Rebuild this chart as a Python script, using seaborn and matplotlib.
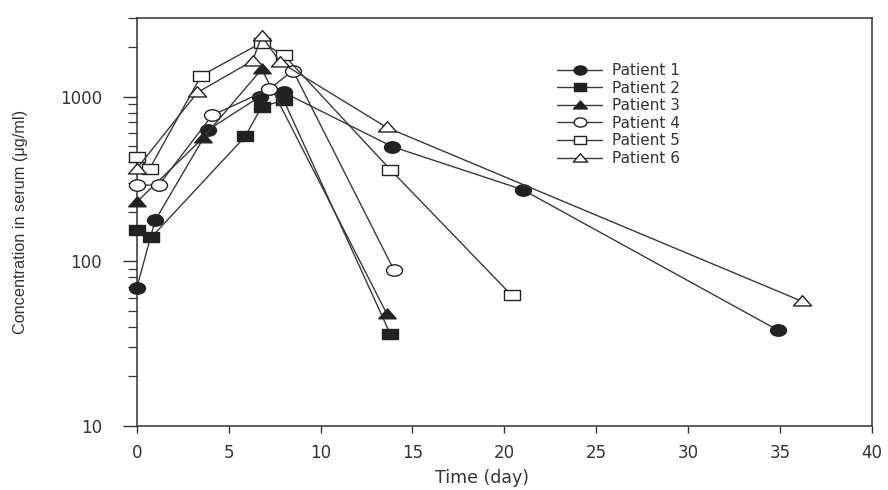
import numpy as np
import pandas as pd
import matplotlib
matplotlib.use("Agg")
import matplotlib.pyplot as plt
import seaborn as sns
from matplotlib.path import Path
from matplotlib.ticker import FixedLocator, NullFormatter, LogLocator

# ---- data ----
patients = ["Patient 1", "Patient 2", "Patient 3", "Patient 4", "Patient 5", "Patient 6"]
p1_day = [0, 1.0, 3.9, 6.7, 8.0, 13.9, 21.0, 34.9]
p1_conc = [69, 177, 630, 1000, 1060, 497, 272, 38]
p2_day = [0, 0.8, 5.9, 6.8, 8.0, 13.8]
p2_conc = [155, 140, 573, 870, 950, 36]
p3_day = [0, 3.6, 6.8, 13.6]
p3_conc = [229, 560, 1470, 48]
p4_day = [0, 1.2, 4.1, 7.2, 8.5, 14.0]
p4_conc = [290, 290, 770, 1110, 1440, 88]
p5_day = [0, 0.7, 3.5, 6.8, 8.0, 13.8, 20.4]
p5_conc = [430, 365, 1340, 2130, 1790, 360, 62]
p6_day = [0, 3.3, 6.3, 6.8, 7.8, 13.6, 36.2]
p6_conc = [365, 1060, 1650, 2340, 1620, 650, 57]

x_ticks = [0, 5, 10, 15, 20, 25, 30, 35, 40]
y_ticks = [10, 100, 1000]
y_ticklabels = ["10", "100", "1000"]

frames = []
for name, d, c in zip(patients,
                      [p1_day, p2_day, p3_day, p4_day, p5_day, p6_day],
                      [p1_conc, p2_conc, p3_conc, p4_conc, p5_conc, p6_conc]):
    frames.append(pd.DataFrame({"day": d, "conc": c, "patient": name}))
df = pd.concat(frames, ignore_index=True)

# ---- marker shapes (slightly wide, like the scanned original) ----
circ = Path.unit_circle()
ellipse = Path(circ.vertices * np.array([1.4, 1.0]), circ.codes)
square = Path([(-0.7, -0.5), (0.7, -0.5), (0.7, 0.5), (-0.7, 0.5), (-0.7, -0.5)],
              [Path.MOVETO, Path.LINETO, Path.LINETO, Path.LINETO, Path.CLOSEPOLY])
tri = Path([(-0.85, -0.42), (0.85, -0.42), (0.0, 0.55), (-0.85, -0.42)],
           [Path.MOVETO, Path.LINETO, Path.LINETO, Path.CLOSEPOLY])

styles = {
    "Patient 1": dict(marker=ellipse, ms=11.5, mfc="#222222"),
    "Patient 2": dict(marker=square, ms=11, mfc="#222222"),
    "Patient 3": dict(marker=tri, ms=12.5, mfc="#222222"),
    "Patient 4": dict(marker=ellipse, ms=11.5, mfc="white"),
    "Patient 5": dict(marker=square, ms=11, mfc="white"),
    "Patient 6": dict(marker=tri, ms=13, mfc="white"),
}

sns.set_theme(style="ticks")
plt.rcParams["font.family"] = ["DejaVu Sans"]

fig = plt.figure(figsize=(8.88, 4.90), dpi=100)
ax = fig.add_axes([0.154, 0.131, 0.828, 0.832])

for name in patients:
    s = styles[name]
    sub = df[df["patient"] == name]
    sns.lineplot(data=sub, x="day", y="conc", ax=ax, sort=False, estimator=None,
                 color="#3a3a3a", linewidth=1.0, label=name,
                 marker=s["marker"], markersize=s["ms"],
                 markerfacecolor=s["mfc"], markeredgecolor="#222222",
                 markeredgewidth=1.0, clip_on=False, zorder=3)

ax.set_yscale("log")
ax.set_xlim(0, 40)
ax.set_ylim(10, 3000)
ax.xaxis.set_major_locator(FixedLocator(x_ticks))
ax.set_xticklabels([str(t) for t in x_ticks])
ax.yaxis.set_major_locator(FixedLocator(y_ticks))
ax.set_yticklabels(y_ticklabels)
ax.yaxis.set_minor_locator(LogLocator(base=10, subs=np.arange(2, 10)))
ax.yaxis.set_minor_formatter(NullFormatter())

for sp in ax.spines.values():
    sp.set_visible(True)
    sp.set_color("#333333")
    sp.set_linewidth(1.1)

ax.tick_params(axis="x", which="major", direction="out", length=5, width=1,
               color="#333333", labelsize=12, labelcolor="#333333", pad=8,
               top=False)
ax.tick_params(axis="y", which="major", direction="out", length=10, width=1,
               color="#333333", labelsize=12, labelcolor="#333333", pad=15,
               right=False)
ax.tick_params(axis="y", which="minor", direction="out", length=6.5, width=0.9,
               color="#333333", right=False)

ax.set_xlabel("Time (day)", fontsize=12.5, color="#333333")
ax.xaxis.set_label_coords(0.47, -0.106)
ax.set_ylabel("Concentration in serum (μg/ml)", fontsize=11.7, color="#333333",
              family=["Liberation Sans", "DejaVu Sans"])
ax.yaxis.set_label_coords(-0.148, 0.5)

leg = ax.legend(loc="upper left", bbox_to_anchor=(0.571, 0.89), frameon=False,
                fontsize=11, handlelength=3.0, labelspacing=0.17,
                handletextpad=0.6, markerscale=0.8, borderaxespad=0, borderpad=0)
for t in leg.get_texts():
    t.set_color("#333333")

ax.set_facecolor("white")
fig.patch.set_facecolor("white")
fig.savefig("out.png", dpi=100)
